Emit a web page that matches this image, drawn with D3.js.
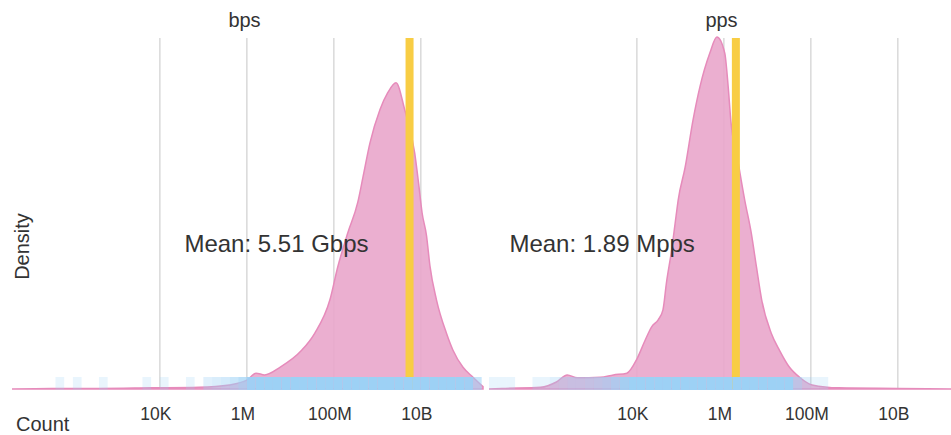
<!DOCTYPE html>
<html>
<head>
<meta charset="utf-8">
<script src="https://cdn.jsdelivr.net/npm/d3@7"></script>
<style>
body { margin: 0; background: #fff; }
svg { display: block; font-family: "Liberation Sans", Arial, sans-serif; }
</style>
</head>
<body>
<div id="chart"></div>
<script>
panels = ["bps", "pps"]
meanValues = [5.51e9, 1.89e6]
meanLabels = ["Mean: 5.51 Gbps", "Mean: 1.89 Mpps"]
tickValues = [1e4, 1e6, 1e8, 1e10]
tickLabels = ["10K", "1M", "100M", "10B"]

// density of log10(rate)
bpsLog = [0.6, 1.5, 2.6, 3.8, 4.9, 5.6, 6.0, 6.21, 6.41, 6.76, 7.26, 7.56, 7.91, 8.09, 8.32, 8.55, 8.67, 8.83, 9.06, 9.24, 9.43, 9.63, 9.86, 9.95, 10.03, 10.13, 10.21, 10.36, 10.59, 10.74, 10.97, 11.2, 11.43]
bpsDensity = [0, 0.001, 0.001, 0.002, 0.003, 0.007, 0.015, 0.027, 0.024, 0.037, 0.066, 0.095, 0.152, 0.208, 0.266, 0.318, 0.361, 0.419, 0.476, 0.505, 0.522, 0.476, 0.402, 0.35, 0.30, 0.262, 0.21, 0.152, 0.095, 0.066, 0.037, 0.02, 0.004]
ppsLog = [0.6, 0.9, 1.79, 2.15, 2.40, 2.63, 3.16, 3.46, 3.77, 4.0, 4.19, 4.34, 4.49, 4.60, 4.68, 4.80, 4.90, 4.95, 5.11, 5.29, 5.45, 5.68, 5.84, 6.02, 6.10, 6.16, 6.32, 6.48, 6.63, 6.75, 6.87, 7.09, 7.28, 7.51, 7.74, 8.03, 8.65, 10.0, 11.43]
ppsDensity = [0, 0.001, 0.003, 0.012, 0.024, 0.019, 0.020, 0.024, 0.027, 0.051, 0.083, 0.106, 0.118, 0.135, 0.181, 0.237, 0.294, 0.322, 0.378, 0.458, 0.515, 0.573, 0.600, 0.573, 0.515, 0.458, 0.390, 0.322, 0.266, 0.208, 0.152, 0.095, 0.066, 0.037, 0.020, 0.007, 0.002, 0.001, 0]

// counts per 0.2 decade bin, first bin starts at 10^0.6
binStart = 0.6
binStep = 0.2
bpsCount = [0,0,0,0,0, 1,0,1,0,0, 1,0,0,0,0, 1,0,1,0,0, 1,0,2,3,4, 6,10,18,26,25, 34,45,58,70,92, 125,165,210,260,310, 370,440,490,515,505, 450,360,270,170,110, 62,36,18,6]
ppsCount = [1,1,1,0,0, 1,1,2,3,4, 4,5,6,8,11, 16,24,75,100,120, 170,300,380,450,520, 570,590,530,420,330, 230,150,95,62,36, 6,2,1,1,0, 0,0,0,0,0, 0,0,0,0,0, 0,0,0,0]

width = 951
height = 435
panelLeft = [12, 489]
panelWidth = 471
baseY = 389
topY = 38

densities = [d3.zip(bpsLog, bpsDensity), d3.zip(ppsLog, ppsDensity)]
counts = [bpsCount, ppsCount]

x = d3.scaleLog()
    .domain([Math.pow(10, 0.6), Math.pow(10, 11.43)])
    .range([0, panelWidth])
y = d3.scaleLinear()
    .domain([0, 0.6])
    .range([baseY, 37])
countOpacity = d3.scaleSqrt().domain([0, 20]).range([0, 1]).clamp(true)

area = d3.area()
    .x(d => x(Math.pow(10, d[0])))
    .y0(y(0))
    .y1(d => y(d[1]))
    .curve(d3.curveMonotoneX)

var svg = d3.select("#chart").append("svg")
    .attr("width", width)
    .attr("height", height)

panels.forEach(function(name, p) {
    const g = svg.append("g")
    .attr("transform", `translate(${panelLeft[p]},0)`)

    g.selectAll(".grid")
    .data(tickValues)
    .enter().append("line")
    .attr("x1", d => x(d))
    .attr("x2", d => x(d))
    .attr("y1", topY)
    .attr("y2", baseY)
    .attr("stroke", "#d9d9d9")
    .attr("stroke-width", 1.5)

    g.append("path")
    .datum(densities[p])
    .attr("d", area)
    .attr("fill", "#e9a6cb")
    .attr("fill-opacity", 0.9)
    .attr("stroke", "#e68bbb")
    .attr("stroke-width", 1.5)

    g.append("rect")
    .attr("x", x(meanValues[p]) - 4)
    .attr("width", 8)
    .attr("y", topY)
    .attr("height", baseY - topY)
    .attr("fill", "#f8cd44")

    // keep the bin index before dropping empty bins
    const bins = counts[p]
    .map((c, i) => ({c: c, lo: binStart + binStep * i, hi: binStart + binStep * (i + 1)}))
    .filter(b => b.c > 0)

    g.selectAll(".bin")
    .data(bins)
    .enter().append("rect")
    .attr("x", d => x(Math.pow(10, d.lo)))
    .attr("width", d => x(Math.pow(10, d.hi)) - x(Math.pow(10, d.lo)))
    .attr("y", 377)
    .attr("height", 13)
    .attr("fill", "#9dd1f5")
    .attr("fill-opacity", d => countOpacity(d.c))

    g.append("text")
    .text(meanLabels[p])
    .attr("x", x(meanValues[p]) - 41)
    .attr("y", 252)
    .attr("text-anchor", "end")
    .style("font-size", "24px")
    .attr("fill", "#333")

    g.selectAll(".tick")
    .data(tickValues)
    .enter().append("text")
    .text((d, i) => tickLabels[i])
    .attr("x", d => x(d))
    .attr("dx", -4)
    .attr("y", 420)
    .attr("text-anchor", "middle")
    .style("font-size", "17.5px")
    .attr("fill", "#333")

    g.append("text")
    .text(name)
    .attr("x", panelWidth / 2)
    .attr("dx", -3)
    .attr("y", 27)
    .attr("text-anchor", "middle")
    .style("font-size", "20px")
    .attr("fill", "#333")
})

svg.append("text")
    .text("Density")
    .attr("transform", "translate(29,246.5) rotate(-90)")
    .attr("text-anchor", "middle")
    .style("font-size", "20px")
    .attr("fill", "#333")

svg.append("text")
    .text("Count")
    .attr("x", 16)
    .attr("y", 431)
    .style("font-size", "20px")
    .attr("fill", "#333")
</script>
</body>
</html>
